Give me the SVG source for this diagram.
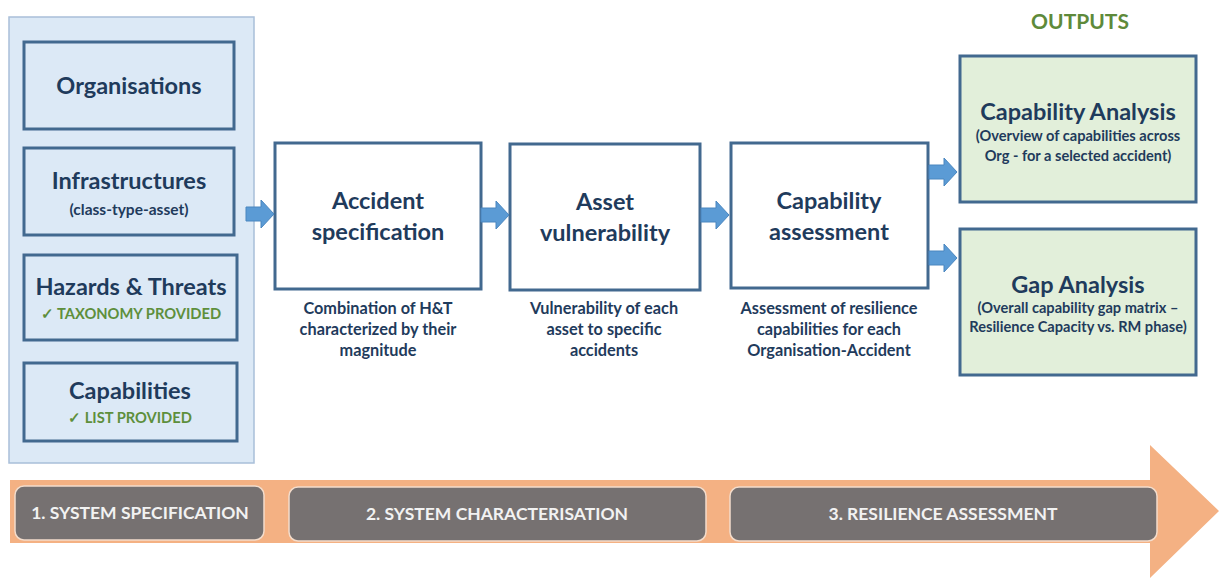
<svg xmlns="http://www.w3.org/2000/svg" width="1223" height="578" viewBox="0 0 1223 578">
  <style>
    text { font-family: Lato, "Open Sans", "Liberation Sans", sans-serif; font-weight: bold; text-anchor: middle; }
    .panel { fill: #dce9f6; stroke: #a9bfd9; stroke-width: 1.5; }
    .inbox { fill: #dce9f6; stroke: #42698f; stroke-width: 3; }
    .step { fill: #ffffff; stroke: #42698f; stroke-width: 3; }
    .out { fill: #e2efda; stroke: #42698f; stroke-width: 3; }
    .t-big { font-size: 23.5px; fill: #1f3b5c; }
    .t-step { font-size: 23.5px; fill: #1f3b5c; }
    .t-sub { font-size: 15.5px; fill: #1f3b5c; }
    .t-cap { font-size: 16.3px; fill: #1f3b5c; }
    .t-ok { font-size: 14.7px; fill: #5e8f3c; }
    .t-out { font-size: 14.6px; fill: #1f3b5c; }
    .phase { fill: #767171; stroke: #f3dccb; stroke-width: 1.5; }
    .t-phase { font-size: 17.5px; fill: #f2f2f2; }
    .blk { fill: #5b9bd5; stroke: #4a86bf; stroke-width: 1; }
  </style>
  <defs>
    <!-- block arrow, 28 wide, pointing right, centred on y=0 -->
    <path id="blockArrow" d="M0,-7 H15 V-14 L28,0 L15,14 V7 H0 Z"/>
  </defs>

  <!-- timeline arrow -->
  <g id="timeline">
    <path d="M10,480 H1150 V445 L1219,511 L1150,578 V543 H10 Z" fill="#f4b183"/>
  </g>

  <g id="phase1">
    <rect class="phase" x="15" y="486" width="249" height="54" rx="9"/>
    <text class="t-phase" x="140" y="519">1. SYSTEM SPECIFICATION</text>
  </g>
  <g id="phase2">
    <rect class="phase" x="289" y="487" width="417" height="54" rx="9"/>
    <text class="t-phase" x="497" y="520">2. SYSTEM CHARACTERISATION</text>
  </g>
  <g id="phase3">
    <rect class="phase" x="730" y="487" width="427" height="54" rx="9"/>
    <text class="t-phase" x="943" y="520">3. RESILIENCE ASSESSMENT</text>
  </g>

  <!-- system specification inputs -->
  <g id="inputs">
    <rect class="panel" x="9" y="17" width="245" height="446"/>
  </g>
  <g id="organisations">
    <rect class="inbox" x="24" y="42" width="210" height="87"/>
    <text class="t-big" x="129" y="94">Organisations</text>
  </g>
  <g id="infrastructures">
    <rect class="inbox" x="24" y="148" width="210" height="87"/>
    <text class="t-big" x="129" y="189">Infrastructures</text>
    <text class="t-sub" x="129" y="215">(class-type-asset)</text>
  </g>
  <g id="hazards">
    <rect class="inbox" x="24" y="255" width="213" height="85"/>
    <text class="t-big" x="131" y="295">Hazards &amp; Threats</text>
    <text class="t-ok" x="131" y="319">✓ TAXONOMY PROVIDED</text>
  </g>
  <g id="capabilities">
    <rect class="inbox" x="24" y="363" width="213" height="78"/>
    <text class="t-big" x="130" y="399">Capabilities</text>
    <text class="t-ok" x="130" y="423">✓ LIST PROVIDED</text>
  </g>

  <!-- characterisation and assessment steps -->
  <g id="accident">
    <rect class="step" x="275" y="143" width="206" height="146"/>
    <text class="t-step" x="378" y="209">Accident</text>
    <text class="t-step" x="378" y="240">specification</text>
    <text class="t-cap" x="378" y="314">Combination of H&amp;T</text>
    <text class="t-cap" x="378" y="335">characterized by their</text>
    <text class="t-cap" x="378" y="356">magnitude</text>
  </g>
  <g id="vulnerability">
    <rect class="step" x="510" y="144" width="190" height="146"/>
    <text class="t-step" x="605" y="210">Asset</text>
    <text class="t-step" x="605" y="241">vulnerability</text>
    <text class="t-cap" x="604" y="314">Vulnerability of each</text>
    <text class="t-cap" x="604" y="335">asset to specific</text>
    <text class="t-cap" x="604" y="356">accidents</text>
  </g>
  <g id="assessment">
    <rect class="step" x="731" y="143" width="197" height="145"/>
    <text class="t-step" x="829" y="209">Capability</text>
    <text class="t-step" x="829" y="240">assessment</text>
    <text class="t-cap" x="829" y="314">Assessment of resilience</text>
    <text class="t-cap" x="829" y="335">capabilities for each</text>
    <text class="t-cap" x="829" y="356">Organisation-Accident</text>
  </g>

  <!-- outputs -->
  <g id="outputs-title">
    <text x="1080" y="29" font-size="21" fill="#5e8a3a">OUTPUTS</text>
  </g>
  <g id="capability-analysis">
    <rect class="out" x="960" y="56" width="236" height="146"/>
    <text class="t-step" x="1078" y="120">Capability Analysis</text>
    <text class="t-out" x="1078" y="141">(Overview of capabilities across</text>
    <text class="t-out" x="1078" y="161">Org - for a selected accident)</text>
  </g>
  <g id="gap-analysis">
    <rect class="out" x="960" y="229" width="236" height="146"/>
    <text class="t-step" x="1078" y="293">Gap Analysis</text>
    <text class="t-out" x="1078" y="313">(Overall capability gap matrix –</text>
    <text class="t-out" x="1078" y="332">Resilience Capacity vs. RM phase)</text>
  </g>

  <!-- connectors -->
  <g id="connectors">
    <use href="#blockArrow" class="blk" transform="translate(246,214)"/>
    <use href="#blockArrow" class="blk" transform="translate(481,215)"/>
    <use href="#blockArrow" class="blk" transform="translate(701,215)"/>
    <use href="#blockArrow" class="blk" transform="translate(929,172)"/>
    <use href="#blockArrow" class="blk" transform="translate(929,258)"/>
  </g>
</svg>
